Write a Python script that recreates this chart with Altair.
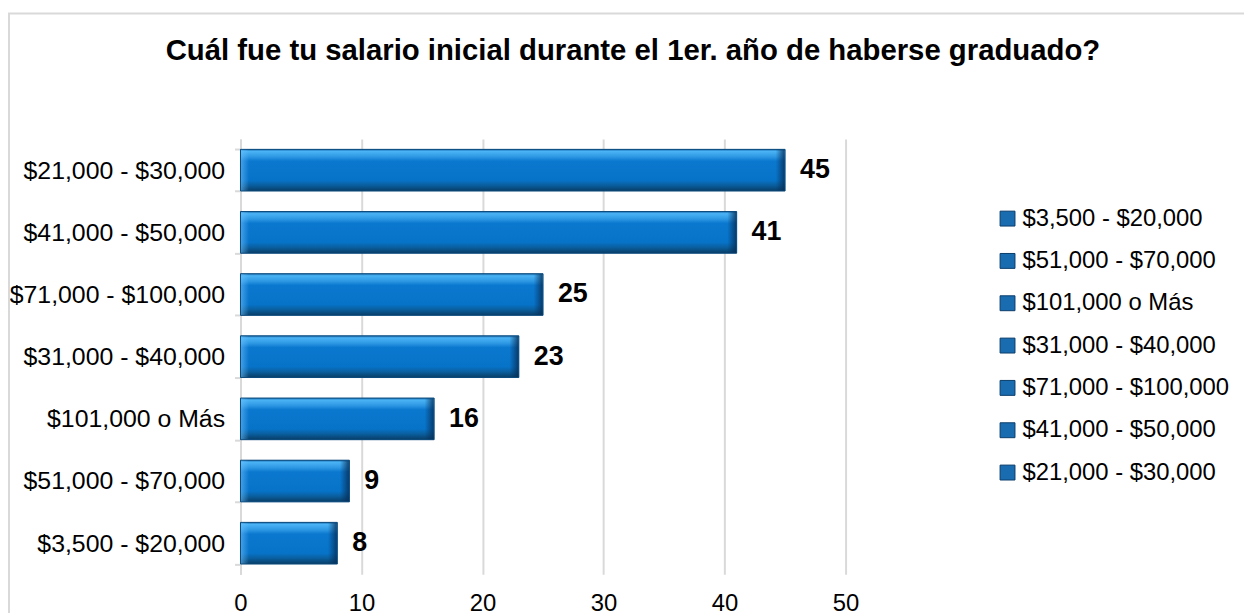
import altair as alt
import pandas as pd

categories = ["$21,000 - $30,000", "$41,000 - $50,000", "$71,000 - $100,000",
              "$31,000 - $40,000", "$101,000 o Más", "$51,000 - $70,000",
              "$3,500 - $20,000"]
values = [45, 41, 25, 23, 16, 9, 8]
legend_order = ["$3,500 - $20,000", "$51,000 - $70,000", "$101,000 o Más",
                "$31,000 - $40,000", "$71,000 - $100,000", "$41,000 - $50,000",
                "$21,000 - $30,000"]
x_ticks = [0, 10, 20, 30, 40, 50]
title_text = "Cuál fue tu salario inicial durante el 1er. año de haberse graduado?"

df = pd.DataFrame({"cat": categories, "val": values})
FONT = "Liberation Sans"
W, H = 609, 438
PL, PT = 234, 130

y_scale = alt.Scale(domain=categories, paddingInner=0.33, paddingOuter=0.165)
x_scale = alt.Scale(domain=[0, 50], nice=False)

y_enc = alt.Y("cat:N", sort=categories, scale=y_scale,
              axis=alt.Axis(title=None, labelFontSize=25, labelFont=FONT, labelColor="#000",
                            labelLimit=0,
                            domainColor="#d9d9d9", domainWidth=2, tickColor="#d9d9d9",
                            tickWidth=2, tickSize=6, tickBand="extent", labelPadding=10,
                            grid=False))
x_enc = alt.X("val:Q", scale=x_scale,
              axis=alt.Axis(values=x_ticks, title=None, grid=True, gridColor="#d9d9d9",
                            gridWidth=2, domain=False, ticks=False, labelFontSize=24,
                            labelFont=FONT, labelColor="#000", labelPadding=17,
                            labelFlush=False))

base = alt.Chart(df)

legend_layer = base.mark_bar().encode(
    x=x_enc, y=y_enc,
    color=alt.Color("cat:N", scale=alt.Scale(domain=legend_order, range=["#1a6cb0"] * 7),
                    legend=alt.Legend(title=None, orient="none", legendX=1002 - 8 - PL,
                                      legendY=68,
                                      symbolType="square", symbolSize=225,
                                      symbolStrokeColor="#0b3d6b", symbolStrokeWidth=1,
                                      labelFontSize=24, labelFont=FONT, labelColor="#000",
                                      labelLimit=0,
                                      rowPadding=18.6, labelOffset=3, padding=0))
)

grad = alt.Gradient(gradient="linear", x1=0, x2=0, y1=0, y2=1, stops=[
    alt.GradientStop(offset=0, color="#1c6fb0"),
    alt.GradientStop(offset=0.05, color="#4ab3f5"),
    alt.GradientStop(offset=0.18, color="#2d97e3"),
    alt.GradientStop(offset=0.28, color="#0b78cf"),
    alt.GradientStop(offset=0.74, color="#0773c8"),
    alt.GradientStop(offset=0.86, color="#0a5f9f"),
    alt.GradientStop(offset=1, color="#083d66"),
])
bars = base.mark_bar(color=grad, stroke="#0b4a7c", strokeWidth=1).encode(
    x=alt.X("val:Q", scale=x_scale), y=alt.Y("cat:N", sort=categories, scale=y_scale))

right_grad = alt.Gradient(gradient="linear", x1=0, x2=1, y1=0, y2=0, stops=[
    alt.GradientStop(offset=0, color="rgba(6,50,95,0)"),
    alt.GradientStop(offset=1, color="rgba(6,45,85,0.8)"),
])
right_edge = base.mark_tick(color=right_grad, size=41, thickness=9, xOffset=-5,
                            opacity=1).encode(
    x=alt.X("val:Q", scale=x_scale), y=alt.Y("cat:N", sort=categories, scale=y_scale))

left_grad = alt.Gradient(gradient="linear", x1=0, x2=1, y1=0, y2=0, stops=[
    alt.GradientStop(offset=0, color="rgba(110,195,255,0.55)"),
    alt.GradientStop(offset=1, color="rgba(110,195,255,0)"),
])
left_edge = base.mark_tick(color=left_grad, size=41, thickness=8, xOffset=4.5,
                           opacity=1).encode(
    x=alt.datum(0, scale=x_scale), y=alt.Y("cat:N", sort=categories, scale=y_scale))

labels = base.mark_text(align="left", baseline="middle", dx=15, fontSize=27,
                        fontWeight="bold", font=FONT, color="#000").encode(
    x=alt.X("val:Q", scale=x_scale), y=alt.Y("cat:N", sort=categories, scale=y_scale),
    text="val:Q")

frame = alt.Chart(pd.DataFrame({"a": [0]})).mark_rect(
    filled=False, stroke="#d9d9d9", strokeWidth=2).encode(
    x=alt.value(1 - PL), x2=alt.value(1100), y=alt.value(3.5 - PT), y2=alt.value(700))

chart = alt.layer(frame, legend_layer, bars, left_edge, right_edge, labels).properties(
    width=W, height=H,
    title=alt.Title(title_text, fontSize=29.5, font=FONT, fontWeight="bold", color="#000",
                    anchor="middle", dx=637 - 8 - PL - W / 2, baseline="alphabetic",
                    offset=-77),
    autosize=alt.AutoSizeParams(type="none"),
    padding={"left": PL, "top": PT, "right": 1244 - PL - W, "bottom": 37},
).configure_view(stroke=None)

chart.save("out.html", embed_options={"renderer": "svg", "actions": False})
